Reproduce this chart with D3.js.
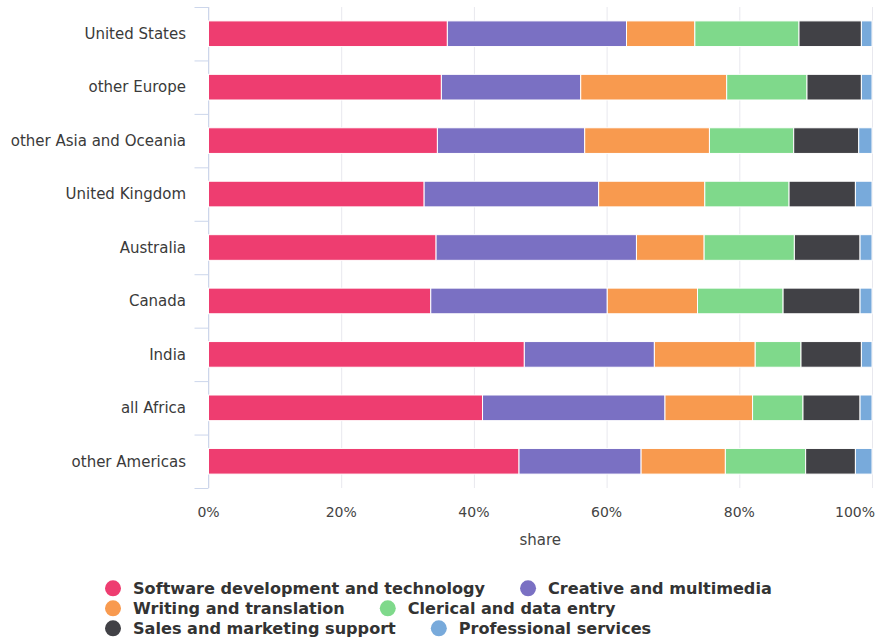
<!DOCTYPE html>
<html>
<head>
<meta charset="utf-8">
<script src="https://cdn.jsdelivr.net/npm/d3@7/dist/d3.min.js"></script>
<style>
  html, body { margin: 0; padding: 0; background: #fff; }
  svg { display: block; font-family: "DejaVu Sans", sans-serif; }
</style>
</head>
<body>
<svg id="chart" width="880" height="643"></svg>
<script>
// Regions, top to bottom
const regions = [
  "United States", "other Europe", "other Asia and Oceania", "United Kingdom",
  "Australia", "Canada", "India", "all Africa", "other Americas"
];

// Job categories, in stacking order
const categories = [
  "Software development and technology", "Creative and multimedia",
  "Writing and translation", "Clerical and data entry",
  "Sales and marketing support", "Professional services"
];

// Share of each category per region (percent), one array per category
const software     = [36.0, 35.1, 34.5, 32.5, 34.3, 33.5, 47.6, 41.3, 46.8];
const creative     = [27.0, 21.0, 22.2, 26.3, 30.2, 26.6, 19.6, 27.5, 18.4];
const writing      = [10.3, 22.0, 18.8, 16.0, 10.2, 13.6, 15.2, 13.2, 12.7];
const clerical     = [15.7, 12.1, 12.7, 12.7, 13.6, 12.9,  6.9,  7.6, 12.1];
const sales        = [ 9.4,  8.2,  9.8, 10.0,  9.9, 11.6,  9.1,  8.6,  7.5];
const professional = [ 1.6,  1.6,  2.0,  2.5,  1.8,  1.8,  1.6,  1.8,  2.5];

const xTicks = [0, 20, 40, 60, 80, 100];
const xTitle = "share";

const colors = ["#ee3d70", "#7a70c3", "#f89a4f", "#7fd98b", "#414146", "#78aadb"];

const seriesValues = [software, creative, writing, clerical, sales, professional];
const rows = regions.map((r, i) => {
  const o = { region: r };
  categories.forEach((c, j) => { o[c] = seriesValues[j][i]; });
  return o;
});

const W = 880;
const svg = d3.select("#chart");
const plot = { left: 208.5, right: 872, top: 7, bottom: 488 };

const x = d3.scaleLinear().domain([0, 100]).range([plot.left, plot.right]);
const y = d3.scaleBand().domain(regions).range([plot.top, plot.bottom])
  .paddingInner(0.52).paddingOuter(0.26);
const color = d3.scaleOrdinal().domain(categories).range(colors);

const stack = d3.stack().keys(categories).offset(d3.stackOffsetExpand);
const layers = stack(rows);

// Vertical grid lines
svg.append("g").selectAll("line").data(xTicks).join("line")
  .attr("x1", d => x(d) + 0.5).attr("x2", d => x(d) + 0.5)
  .attr("y1", plot.top).attr("y2", plot.bottom)
  .attr("stroke", "#e8e8ee").attr("stroke-width", 1);

// Category axis line with ticks on band boundaries
const yAxis = svg.append("g");
yAxis.append("line")
  .attr("x1", plot.left).attr("x2", plot.left)
  .attr("y1", plot.top).attr("y2", plot.bottom)
  .attr("stroke", "#ccd6eb");
yAxis.selectAll("line.tick").data(d3.range(regions.length + 1)).join("line")
  .attr("class", "tick")
  .attr("x1", plot.left - 14).attr("x2", plot.left)
  .attr("y1", i => y.range()[0] + i * y.step() + 0.5)
  .attr("y2", i => y.range()[0] + i * y.step() + 0.5)
  .attr("stroke", "#ccd6eb");
yAxis.selectAll("text").data(regions).join("text")
  .attr("x", 186).attr("y", d => y(d) + y.bandwidth() / 2)
  .attr("dy", "0.35em").attr("text-anchor", "end")
  .attr("font-size", 15).attr("fill", "#3a3a3a")
  .text(d => d);

// Stacked bars
svg.append("g").selectAll("g").data(layers).join("g")
  .attr("fill", d => color(d.key))
  .selectAll("rect").data(d => d).join("rect")
  .attr("x", d => x(d[0] * 100))
  .attr("width", d => Math.max(0, x(d[1] * 100) - x(d[0] * 100)))
  .attr("y", d => y(d.data.region))
  .attr("height", y.bandwidth())
  .attr("stroke", "#fff").attr("stroke-width", 1);

// Percentage axis labels, kept inside the chart's right edge
svg.append("g").selectAll("text").data(xTicks).join("text")
  .attr("y", 516.5)
  .attr("text-anchor", "middle").attr("font-size", 14).attr("fill", "#444")
  .text(d => d + "%")
  .each(function (d) {
    const half = this.getComputedTextLength() / 2;
    d3.select(this).attr("x", Math.min(x(d), W - 5 - half));
  });

svg.append("text")
  .attr("x", (plot.left + plot.right) / 2).attr("y", 545)
  .attr("text-anchor", "middle").attr("font-size", 15).attr("fill", "#444")
  .text(xTitle);

// Legend, flowing left to right and wrapping
const legend = svg.append("g");
const legendX = 105, legendMaxX = 860, rowStep = 20, firstRowY = 588.3, gap = 35;
let lx = legendX, ly = firstRowY;
categories.forEach(c => {
  const item = legend.append("g");
  item.append("circle").attr("cx", 8).attr("cy", 0).attr("r", 8).attr("fill", color(c));
  const t = item.append("text").attr("x", 28).attr("y", 0).attr("dy", "0.36em")
    .attr("font-size", 16.1).attr("font-weight", "bold").attr("fill", "#333").text(c);
  const w = 28 + t.node().getComputedTextLength();
  if (lx > legendX && lx + w > legendMaxX) { lx = legendX; ly += rowStep; }
  item.attr("transform", `translate(${lx},${ly})`);
  lx += w + gap;
});
</script>
</body>
</html>
